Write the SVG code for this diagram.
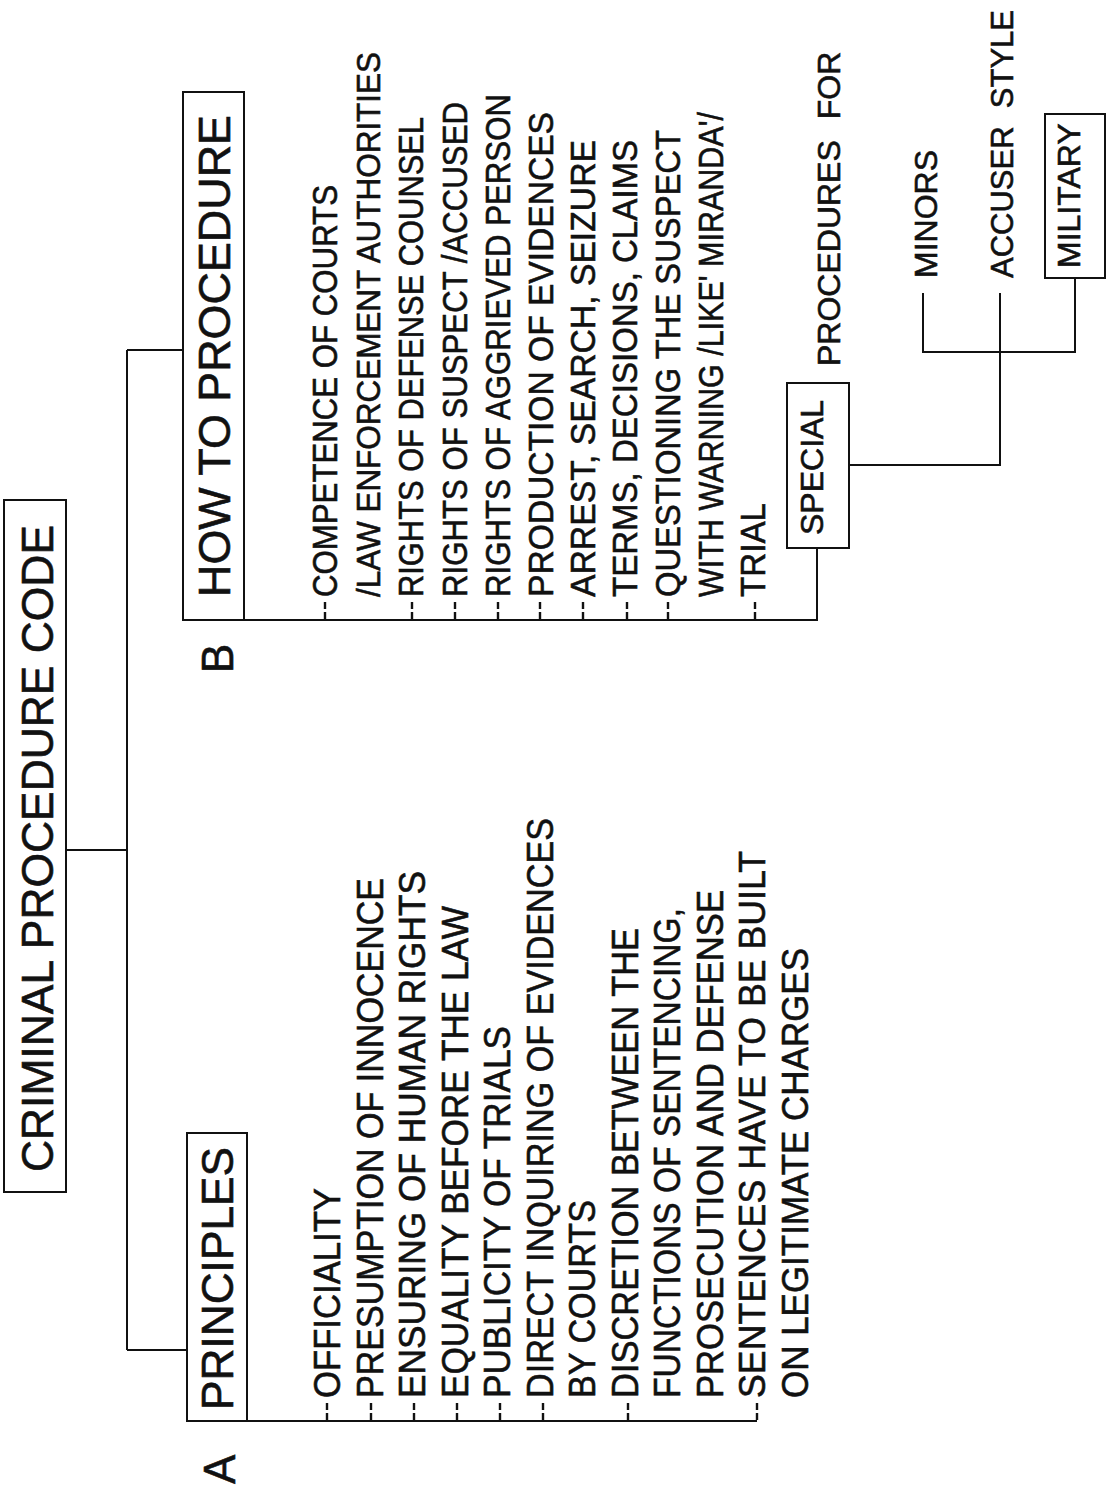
<svg xmlns="http://www.w3.org/2000/svg" width="1114" height="1488" viewBox="0 0 1114 1488">
<style>
.box{fill:none;stroke:#111;stroke-width:2}
.ln{fill:none;stroke:#111;stroke-width:2}
.tk{fill:none;stroke:#111;stroke-width:2.4;stroke-dasharray:7 3}
text{font-family:"Liberation Sans",Arial,Helvetica,sans-serif;fill:#111;stroke:#111;stroke-width:0.6}
.h{font-size:44px}
.l{font-size:37px}
.m{font-size:35px}
.m2{font-size:33px}
.s{font-size:32px}
</style>
<rect width="1114" height="1488" fill="#fff"/>

<g id="connectors">
  <path class="ln" d="M66,850 H127 M127,350 V1350 M127,350 H183 M127,1350 H187"/>
  <path class="ln" d="M247,1421 H757"/>
  <path class="tk" d="M327,1403 V1421 M371,1403 V1421 M414,1403 V1421 M457,1403 V1421 M500,1403 V1421 M543,1403 V1421 M628,1403 V1421 M757,1403 V1421"/>
  <path class="ln" d="M244,620 H817 V548"/>
  <path class="tk" d="M325,602 V620 M412,602 V620 M455,602 V620 M498,602 V620 M540,602 V620 M583,602 V620 M627,602 V620 M668,602 V620 M755,602 V620"/>
  <path class="ln" d="M849,465 H1000 V293 M923,293 V352 H1075 V278"/>
</g>

<g id="title">
  <rect class="box" x="4" y="500" width="62" height="692"/>
  <text class="h" transform="translate(53,1172) rotate(-90)" textLength="647" lengthAdjust="spacingAndGlyphs">CRIMINAL PROCEDURE CODE</text>
</g>

<g id="label-a"><text class="h" transform="translate(235,1484) rotate(-90)">A</text></g>
<g id="label-b"><text class="h" transform="translate(233,673) rotate(-90)">B</text></g>

<g id="principles">
  <rect class="box" x="187" y="1133" width="60" height="288"/>
  <text class="h" transform="translate(233,1410) rotate(-90)" textLength="263" lengthAdjust="spacingAndGlyphs">PRINCIPLES</text>
</g>

<g id="principles-items" class="l">
  <text id="p1" transform="translate(340,1398) rotate(-90)" textLength="210" lengthAdjust="spacingAndGlyphs">OFFICIALITY</text>
  <text id="p2" transform="translate(382.5,1398) rotate(-90)" textLength="520" lengthAdjust="spacingAndGlyphs">PRESUMPTION OF INNOCENCE</text>
  <text id="p3" transform="translate(425,1398) rotate(-90)" textLength="527" lengthAdjust="spacingAndGlyphs">ENSURING OF HUMAN RIGHTS</text>
  <text id="p4" transform="translate(467.5,1398) rotate(-90)" textLength="492" lengthAdjust="spacingAndGlyphs">EQUALITY BEFORE THE LAW</text>
  <text id="p5" transform="translate(510,1398) rotate(-90)" textLength="372" lengthAdjust="spacingAndGlyphs">PUBLICITY OF TRIALS</text>
  <text id="p6" transform="translate(552.5,1398) rotate(-90)" textLength="580" lengthAdjust="spacingAndGlyphs">DIRECT INQUIRING OF EVIDENCES</text>
  <text id="p7" transform="translate(595,1398) rotate(-90)" textLength="198" lengthAdjust="spacingAndGlyphs">BY COURTS</text>
  <text id="p8" transform="translate(637.5,1398) rotate(-90)" textLength="470" lengthAdjust="spacingAndGlyphs">DISCRETION BETWEEN THE</text>
  <text id="p9" transform="translate(680,1398) rotate(-90)" textLength="490" lengthAdjust="spacingAndGlyphs">FUNCTIONS OF SENTENCING,</text>
  <text id="p10" transform="translate(722.5,1398) rotate(-90)" textLength="508" lengthAdjust="spacingAndGlyphs">PROSECUTION AND DEFENSE</text>
  <text id="p11" transform="translate(765,1398) rotate(-90)" textLength="547" lengthAdjust="spacingAndGlyphs">SENTENCES HAVE TO BE BUILT</text>
  <text id="p12" transform="translate(807.5,1398) rotate(-90)" textLength="450" lengthAdjust="spacingAndGlyphs">ON LEGITIMATE CHARGES</text>
</g>

<g id="how-to-procedure">
  <rect class="box" x="183" y="92" width="61" height="528"/>
  <text class="h" transform="translate(230,597) rotate(-90)" textLength="482" lengthAdjust="spacingAndGlyphs">HOW TO PROCEDURE</text>
</g>

<g id="procedure-items" class="m">
  <text id="b1" transform="translate(337,597) rotate(-90)" textLength="412" lengthAdjust="spacingAndGlyphs">COMPETENCE OF COURTS</text>
  <text id="b2" class="m2" transform="translate(380,597) rotate(-90)" textLength="545" lengthAdjust="spacingAndGlyphs">/LAW ENFORCEMENT AUTHORITIES</text>
  <text id="b3" transform="translate(423,597) rotate(-90)" textLength="480" lengthAdjust="spacingAndGlyphs">RIGHTS OF DEFENSE COUNSEL</text>
  <text id="b4" transform="translate(467,597) rotate(-90)" textLength="495" lengthAdjust="spacingAndGlyphs">RIGHTS OF SUSPECT /ACCUSED</text>
  <text id="b5" transform="translate(510,597) rotate(-90)" textLength="503" lengthAdjust="spacingAndGlyphs">RIGHTS OF AGGRIEVED PERSON</text>
  <text id="b6" transform="translate(553,597) rotate(-90)" textLength="485" lengthAdjust="spacingAndGlyphs">PRODUCTION OF EVIDENCES</text>
  <text id="b7" transform="translate(595,597) rotate(-90)" textLength="457" lengthAdjust="spacingAndGlyphs">ARREST, SEARCH, SEIZURE</text>
  <text id="b8" transform="translate(637,597) rotate(-90)" textLength="457" lengthAdjust="spacingAndGlyphs">TERMS, DECISIONS, CLAIMS</text>
  <text id="b9" transform="translate(680,597) rotate(-90)" textLength="467" lengthAdjust="spacingAndGlyphs">QUESTIONING THE SUSPECT</text>
  <text id="b10" transform="translate(723,597) rotate(-90)" textLength="485" lengthAdjust="spacingAndGlyphs">WITH WARNING /LIKE' MIRANDA'/</text>
  <text id="b11" transform="translate(765,597) rotate(-90)" textLength="94" lengthAdjust="spacingAndGlyphs">TRIAL</text>
</g>

<g id="special">
  <rect class="box" x="787" y="383" width="62" height="165"/>
  <text class="s" transform="translate(823,535) rotate(-90)">SPECIAL</text>
</g>
<g id="procedures-for"><text class="s" transform="translate(840,366) rotate(-90)">PROCEDURES <tspan dx="12">FOR</tspan></text></g>
<g id="minors"><text class="s" transform="translate(937,278) rotate(-90)">MINORS</text></g>
<g id="accuser-style"><text class="s" transform="translate(1013,278) rotate(-90)" textLength="268" lengthAdjust="spacingAndGlyphs">ACCUSER <tspan dx="10">STYLE</tspan></text></g>
<g id="military">
  <rect class="box" x="1045" y="114" width="60" height="164"/>
  <text class="s" transform="translate(1080,268) rotate(-90)">MILITARY</text>
</g>
</svg>
